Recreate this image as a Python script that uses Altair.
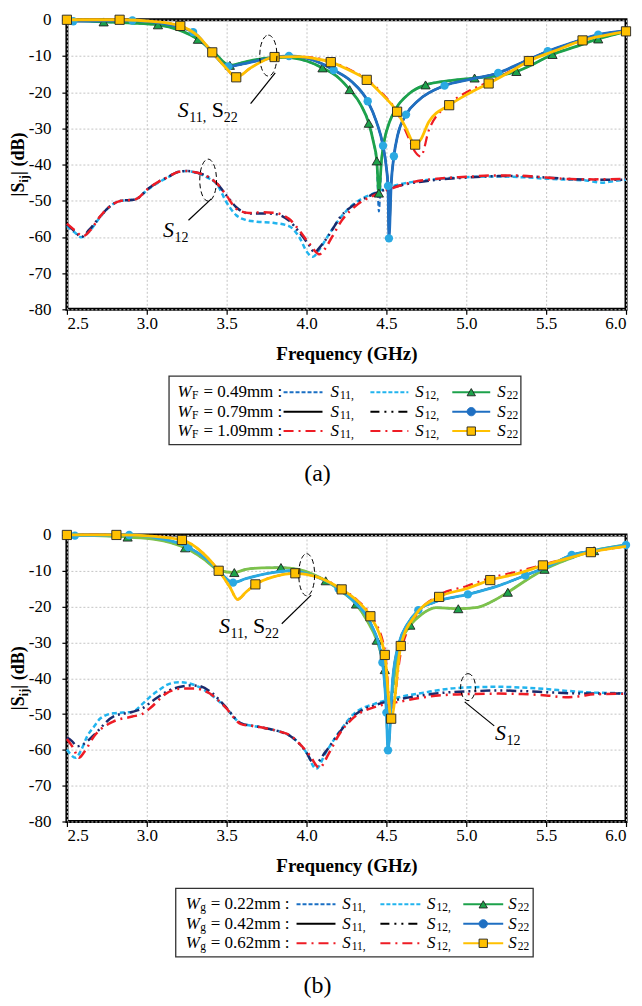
import altair as alt
import pandas as pd

FONT = 'Liberation Serif'
PW = 560
PH_A, PH_B = 290, 287
LEG_A_H, LEG_B_H = 226, 177

GREEN = '#1DA24B'
GREEN_LT = '#7DC24B'
BLUE = '#1F6FC2'
CYAN = '#2AA9E2'
YELLOW = '#FFC000'
RED = '#EE1C25'
NAVY = '#1B2A6B'
SKY = '#21B4EE'
DBLUE = '#1A6FC4'
EDGE = '#222222'

X_TICKS = [2.5, 3.0, 3.5, 4.0, 4.5, 5.0, 5.5, 6.0]
Y_TICKS = [0, -10, -20, -30, -40, -50, -60, -70, -80]

# ---------- (a) W_F sweep ----------
a_wf = ['0.49', '0.79', '1.09']

a_s22_049_f = [2.50, 2.73, 2.90, 3.07, 3.20, 3.32, 3.42, 3.52, 3.62, 3.75, 3.87, 4.00, 4.10, 4.20, 4.27, 4.34, 4.39, 4.42,
               4.44, 4.453, 4.47, 4.49, 4.52, 4.56, 4.64, 4.745, 4.90, 5.052, 5.18, 5.314, 5.44, 5.54, 5.68, 5.826, 6.00]
a_s22_049_db = [0.0, -0.6, -0.9, -1.4, -2.8, -5.4, -9.0, -12.6, -11.6, -10.6, -10.4, -11.4, -13.3, -16.0, -19.3, -23.5,
                -28.6, -34.0, -39.0, -47.9, -38.5, -32.7, -28.2, -24.5, -20.5, -18.0, -16.8, -16.1, -15.6, -14.3, -11.8,
                -9.6, -7.5, -5.3, -3.3]
a_s22_049_mk = [2.73, 3.07, 3.32, 3.52, 4.10, 4.27, 4.39, 4.44, 4.453, 4.745, 5.052, 5.314, 5.54, 5.826]
a_s11_049_db = [0.0, -0.6, -0.9, -1.4, -2.8, -5.4, -9.0, -12.6, -11.6, -10.6, -10.4, -11.4, -13.3, -16.0, -19.3, -23.5,
                -28.6, -34.0, -40.0, -53.0, -38.5, -32.7, -28.2, -24.5, -20.5, -18.0, -16.8, -16.1, -15.6, -14.3, -11.8,
                -9.6, -7.5, -5.3, -3.3]

a_s22_079_f = [2.50, 2.54, 2.91, 3.10, 3.29, 3.40, 3.51, 3.60, 3.75, 3.89, 4.00, 4.10, 4.17, 4.28, 4.383, 4.438, 4.479,
               4.50, 4.51, 4.516, 4.53, 4.547, 4.571, 4.623, 4.70, 4.864, 5.03, 5.20, 5.35, 5.51, 5.66, 5.826, 6.00]
a_s22_079_db = [-0.2, -0.4, -0.2, -1.0, -3.4, -8.5, -12.9, -12.2, -10.8, -10.0, -10.6, -12.2, -13.9, -17.0, -22.5,
                -28.2, -34.8, -40.9, -45.9, -60.4, -45.4, -37.7, -31.8, -26.2, -22.3, -18.2, -16.4, -14.7, -11.8, -8.7,
                -6.4, -4.1, -3.0]
a_s22_079_mk = [2.54, 2.91, 3.29, 3.51, 3.89, 4.17, 4.383, 4.479, 4.51, 4.516, 4.547, 4.623, 4.864, 5.20, 5.51, 5.826]
a_s11_079_db = a_s22_079_db[:]  # hidden under the S22 trace

a_s22_109_f = [2.50, 2.83, 3.05, 3.21, 3.32, 3.41, 3.50, 3.56, 3.65, 3.80, 3.95, 4.05, 4.152, 4.275, 4.377, 4.479, 4.567,
               4.623, 4.68, 4.715, 4.766, 4.893, 5.01, 5.14, 5.27, 5.392, 5.56, 5.728, 5.87, 6.00]
a_s22_109_db = [0.0, 0.0, -0.5, -1.7, -4.5, -9.0, -13.5, -15.9, -13.3, -10.3, -10.2, -10.7, -11.7, -14.1, -16.6, -20.9,
                -25.4, -30.0, -34.5, -33.1, -28.2, -23.6, -20.5, -17.6, -14.5, -11.4, -8.5, -5.7, -4.3, -3.2]
a_s22_109_mk = [2.50, 2.83, 3.21, 3.41, 3.56, 3.80, 4.152, 4.377, 4.567, 4.68, 4.893, 5.14, 5.392, 5.728, 6.00]
a_s11_109_db = [0.0, 0.0, -0.5, -1.7, -4.5, -9.0, -13.5, -15.9, -13.3, -10.3, -10.2, -10.5, -11.5, -13.9, -16.4, -20.6,
                -25.5, -31.0, -36.5, -37.8, -30.5, -23.3, -19.8, -17.2, -14.3, -11.3, -8.4, -5.7, -4.3, -3.2]

a_s12_049_f = [2.50, 2.55, 2.59, 2.64, 2.70, 2.76, 2.83, 2.93, 3.01, 3.08, 3.13, 3.20, 3.25, 3.31, 3.38, 3.44, 3.50, 3.56,
               3.62, 3.69, 3.79, 3.89, 3.96, 4.00, 4.04, 4.08, 4.13, 4.19, 4.27, 4.34, 4.42, 4.50, 4.60, 4.75, 4.90, 5.05,
               5.20, 5.35, 5.50, 5.65, 5.75, 5.85, 5.92, 6.00]
a_s12_049_db = [-57.0, -58.8, -60.1, -58.5, -55.0, -51.9, -50.1, -49.6, -46.8, -44.8, -43.6, -42.0, -41.8, -42.3, -43.6,
                -45.5, -50.5, -54.0, -55.3, -55.8, -56.1, -57.0, -60.5, -64.0, -65.5, -63.5, -60.0, -56.0, -51.9, -49.6,
                -48.0, -46.5, -45.3, -44.3, -43.7, -43.4, -43.3, -43.5, -43.9, -44.2, -44.4, -45.0, -44.6, -44.2]

a_s12_079_f = [2.50, 2.55, 2.59, 2.64, 2.70, 2.76, 2.83, 2.93, 3.01, 3.08, 3.13, 3.20, 3.25, 3.31, 3.38, 3.44, 3.50, 3.56,
               3.64, 3.72, 3.79, 3.89, 3.96, 4.02, 4.05, 4.08, 4.14, 4.21, 4.32, 4.44, 4.54, 4.65, 4.80, 5.00, 5.20, 5.35,
               5.50, 5.65, 5.80, 6.00]
a_s12_079_db = [-56.5, -58.5, -60.0, -58.0, -54.8, -51.9, -50.1, -49.6, -46.6, -44.6, -43.5, -42.0, -41.8, -42.2, -43.3,
                -45.3, -48.6, -51.8, -53.5, -53.5, -53.6, -55.5, -59.0, -62.5, -64.3, -63.0, -59.5, -54.6, -50.5, -47.8,
                -46.3, -45.2, -44.3, -43.6, -43.2, -43.2, -43.6, -44.0, -44.2, -44.2]

a_s12_109_f = [2.50, 2.55, 2.60, 2.65, 2.70, 2.76, 2.83, 2.93, 3.01, 3.08, 3.13, 3.20, 3.25, 3.31, 3.38, 3.44, 3.50, 3.56,
               3.64, 3.72, 3.79, 3.89, 3.96, 4.02, 4.08, 4.12, 4.16, 4.22, 4.32, 4.44, 4.54, 4.65, 4.80, 5.00, 5.20, 5.35,
               5.50, 5.65, 5.80, 6.00]
a_s12_109_db = [-56.3, -58.2, -59.8, -58.0, -54.8, -51.9, -50.1, -49.6, -46.6, -44.6, -43.5, -42.0, -41.8, -42.2, -43.3,
                -45.3, -48.6, -52.2, -53.4, -53.2, -53.3, -55.0, -58.5, -62.0, -64.8, -63.0, -60.0, -55.5, -51.0, -48.2,
                -46.5, -45.0, -44.0, -43.4, -43.0, -43.1, -43.6, -44.0, -44.1, -44.0]

# ---------- (b) W_g sweep ----------
b_wg = ['0.22', '0.42', '0.62']

b_s22_022_f = [2.50, 2.88, 3.05, 3.24, 3.35, 3.45, 3.548, 3.62, 3.72, 3.84, 3.95, 4.03, 4.12, 4.22, 4.31, 4.38, 4.44,
               4.49, 4.52, 4.56, 4.60, 4.65, 4.72, 4.81, 4.95, 5.07, 5.16, 5.26, 5.37, 5.49, 5.63, 5.80, 6.00]
b_s22_022_db = [0.0, -0.6, -1.2, -3.6, -6.5, -9.8, -10.5, -9.6, -9.2, -9.1, -9.6, -10.8, -12.8, -15.8, -19.3, -24.0,
                -29.4, -37.6, -47.0, -36.0, -29.0, -25.2, -22.2, -20.3, -20.6, -20.2, -18.6, -16.0, -12.8, -9.6, -6.9,
                -4.4, -2.8]
b_s22_022_mk = [2.88, 3.24, 3.548, 3.84, 4.12, 4.31, 4.44, 4.49, 4.65, 4.95, 5.26, 5.49, 5.80]
b_s11_022_db = [0.0, -0.6, -1.2, -3.6, -6.5, -9.8, -10.5, -9.6, -9.2, -9.1, -9.6, -10.8, -12.8, -15.8, -19.3, -24.0,
                -29.4, -37.6, -50.0, -36.0, -29.0, -25.2, -22.2, -20.3, -20.6, -20.2, -18.6, -16.0, -12.8, -9.6, -6.9,
                -4.4, -2.8]

b_s22_042_f = [2.50, 2.55, 2.89, 3.08, 3.26, 3.38, 3.45, 3.54, 3.62, 3.75, 3.90, 4.00, 4.12, 4.20, 4.31, 4.40, 4.475,
               4.50, 4.51, 4.54, 4.58, 4.63, 4.70, 4.80, 5.01, 5.20, 5.37, 5.50, 5.66, 5.82, 6.00]
b_s22_042_db = [-0.2, -0.2, 0.0, -1.0, -3.4, -7.0, -10.0, -13.3, -12.2, -10.8, -10.0, -10.8, -12.8, -15.0, -19.2, -24.5,
                -35.6, -49.6, -60.1, -40.0, -30.0, -25.0, -21.0, -18.8, -16.6, -14.2, -11.3, -9.0, -5.6, -4.2, -2.8]
b_s22_042_mk = [2.55, 2.89, 3.26, 3.54, 4.20, 4.475, 4.50, 4.51, 4.70, 5.01, 5.37, 5.66, 6.00]
b_s11_042_db = b_s22_042_db[:]  # hidden under the S22 trace

b_s22_062_f = [2.50, 2.81, 3.05, 3.22, 3.35, 3.45, 3.52, 3.568, 3.62, 3.68, 3.80, 3.93, 4.05, 4.22, 4.32, 4.40, 4.49,
               4.53, 4.59, 4.68, 4.83, 5.00, 5.15, 5.32, 5.48, 5.63, 5.78, 6.00]
b_s22_062_db = [0.0, 0.0, -0.4, -1.4, -5.0, -10.0, -14.5, -18.0, -16.0, -13.8, -11.6, -10.7, -11.5, -15.2, -18.5, -22.7,
                -33.5, -51.3, -31.0, -22.5, -17.3, -15.0, -12.6, -10.8, -8.5, -6.6, -4.8, -3.2]
b_s22_062_mk = [2.50, 2.81, 3.22, 3.45, 3.68, 3.93, 4.22, 4.40, 4.49, 4.53, 4.59, 4.83, 5.15, 5.48, 5.78]
b_s11_062_db = [0.0, 0.0, -0.4, -1.4, -5.0, -10.0, -14.5, -18.0, -16.0, -13.8, -11.6, -10.7, -11.5, -15.0, -18.3, -22.3,
                -32.0, -50.0, -33.0, -23.0, -16.8, -14.3, -12.0, -10.2, -8.3, -6.5, -4.8, -3.2]

b_s12_022_f = [2.50, 2.555, 2.59, 2.627, 2.67, 2.71, 2.79, 2.91, 2.97, 3.02, 3.08, 3.12, 3.20, 3.28, 3.38, 3.49, 3.59,
               3.69, 3.77, 3.84, 3.90, 3.96, 4.00, 4.06, 4.12, 4.20, 4.30, 4.43, 4.59, 4.75, 4.90, 5.05, 5.20, 5.35,
               5.50, 5.65, 5.80, 6.00]
b_s12_022_db = [-59.9, -62.2, -60.0, -56.2, -53.5, -51.2, -49.8, -49.4, -47.3, -45.2, -43.2, -42.0, -41.1, -41.6, -43.9,
                -48.0, -52.6, -53.5, -54.2, -55.0, -56.2, -58.5, -60.8, -65.3, -60.8, -55.3, -49.8, -47.1, -45.2, -43.9,
                -42.9, -42.5, -42.4, -42.6, -43.0, -43.6, -44.0, -44.2]

b_s12_042_f = [2.50, 2.53, 2.565, 2.60, 2.67, 2.79, 2.91, 2.97, 3.04, 3.14, 3.22, 3.28, 3.33, 3.40, 3.49, 3.59, 3.69,
               3.77, 3.84, 3.90, 3.96, 4.00, 4.05, 4.12, 4.20, 4.30, 4.43, 4.59, 4.75, 4.90, 5.05, 5.20, 5.35, 5.50,
               5.65, 5.80, 6.00]
b_s12_042_db = [-56.6, -57.5, -59.0, -58.5, -55.8, -50.7, -49.4, -48.5, -46.2, -43.4, -42.3, -42.0, -42.2, -43.8, -47.8,
                -52.6, -53.5, -54.2, -55.0, -56.2, -58.5, -60.8, -64.0, -60.5, -55.5, -50.3, -47.5, -45.8, -44.6, -43.9,
                -43.6, -43.4, -43.6, -43.9, -44.2, -44.3, -44.3]

b_s12_062_f = [2.50, 2.54, 2.575, 2.61, 2.67, 2.79, 2.91, 2.97, 3.02, 3.12, 3.22, 3.30, 3.38, 3.49, 3.59, 3.69, 3.77,
               3.84, 3.90, 3.96, 4.02, 4.08, 4.14, 4.20, 4.30, 4.43, 4.59, 4.75, 4.90, 5.05, 5.20, 5.35, 5.50, 5.62,
               5.70, 5.80, 6.00]
b_s12_062_db = [-57.0, -59.5, -62.2, -60.5, -56.2, -52.1, -50.7, -50.0, -48.4, -44.3, -42.9, -42.9, -43.9, -48.0, -52.8,
                -53.5, -54.2, -55.0, -56.0, -58.5, -61.5, -65.0, -61.0, -56.0, -50.8, -48.0, -46.5, -45.2, -44.6, -44.4,
                -44.3, -44.4, -44.8, -45.3, -45.1, -44.5, -44.3]


X = alt.X('f:Q', scale=alt.Scale(domain=[2.5, 6.0], nice=False, zero=False),
          axis=alt.Axis(values=X_TICKS, format='.1f', title='Frequency (GHz)', labelPadding=1, titlePadding=13))
Y = alt.Y('db:Q', scale=alt.Scale(domain=[-80, 0], nice=False),
          axis=alt.Axis(values=Y_TICKS, title=None, labelPadding=11,
                        labelExpr="datum.value == 0 ? '0' : '-' + abs(datum.value)"))


def curve(f, db, color, width, dash=None):
    props = dict(color=color, strokeWidth=width, interpolate='monotone')
    if dash:
        props['strokeDash'] = dash
    return alt.Chart(pd.DataFrame({'f': f, 'db': db})).mark_line(**props).encode(x=X, y=Y)


def markers(f, db, at, shape, fill, size, edge=None):
    lookup = dict(zip(f, db))
    df = pd.DataFrame({'f': at, 'db': [lookup[v] for v in at]})
    props = dict(shape=shape, size=size, filled=True, fill=fill, opacity=1)
    if edge:
        props.update(stroke=edge, strokeWidth=0.9)
    return alt.Chart(df).mark_point(**props).encode(x=X, y=Y)


def ellipse(f, db, h, ratio):
    path = f'M0,-1A{ratio},1,0,1,1,0,1A{ratio},1,0,1,1,0,-1Z'
    return alt.Chart(pd.DataFrame({'f': [f], 'db': [db]})).mark_point(
        shape=path, size=h * h, filled=False, stroke='black', strokeWidth=1, strokeDash=[5, 3], opacity=1
    ).encode(x=X, y=Y)


def leader(f1, db1, f2, db2):
    df = pd.DataFrame({'f': [f1], 'db': [db1], 'f2': [f2], 'db2': [db2]})
    return alt.Chart(df).mark_rule(color='black', strokeWidth=1.2).encode(x=X, y=Y, x2='f2:Q', y2='db2:Q')


def s_label(f, db, parts, size=22):
    base = pd.DataFrame({'f': [f], 'db': [db]})
    out = []
    for text, dx, sub, italic in parts:
        props = dict(text=text, dx=dx, align='left', baseline='alphabetic', font=FONT, color='black',
                     fontSize=14 if sub else size, fontStyle='italic' if italic else 'normal')
        if sub:
            props['dy'] = 5
        out.append(alt.Chart(base).mark_text(**props).encode(x=X, y=Y))
    return out


def y_title(h):
    base = pd.DataFrame({'k': [0]})
    out = []
    for text, dx, size in [('|S', 0, 18), ('ij', 14, 12), ('| (dB)', 21.5, 18)]:
        props = dict(text=text, angle=270, dx=dx, align='left', baseline='alphabetic', font=FONT,
                     fontSize=size, fontWeight='bold', color='black')
        if size < 18:
            props['dy'] = 4
        out.append(alt.Chart(base).mark_text(**props).encode(x=alt.value(-43), y=alt.value(h / 2 + 32)))
    return out


S11_S22 = [('S', 0, False, True), ('11,', 11.5, True, False), ('S', 34, False, False), ('22', 46, True, False)]
S12 = [('S', 0, False, True), ('12', 11.5, True, False)]

layers_a = [
    curve(a_s22_049_f, a_s11_049_db, DBLUE, 2, [5, 3]),
    curve(a_s22_079_f, a_s11_079_db, 'black', 2),
    curve(a_s22_109_f, a_s11_109_db, RED, 2.2, [10, 5, 2, 5]),
    curve(a_s12_049_f, a_s12_049_db, SKY, 2.5, [5, 3]),
    curve(a_s12_079_f, a_s12_079_db, NAVY, 2.5, [10, 4, 2, 4, 2, 4]),
    curve(a_s12_109_f, a_s12_109_db, RED, 2.5, [10, 5, 2, 5]),
    curve(a_s22_049_f, a_s22_049_db, GREEN, 2.8),
    markers(a_s22_049_f, a_s22_049_db, a_s22_049_mk, 'triangle-up', GREEN, 85, EDGE),
    curve(a_s22_079_f, a_s22_079_db, BLUE, 2.8),
    markers(a_s22_079_f, a_s22_079_db, a_s22_079_mk, 'circle', CYAN, 70),
    curve(a_s22_109_f, a_s22_109_db, YELLOW, 2.8),
    markers(a_s22_109_f, a_s22_109_db, a_s22_109_mk, 'square', YELLOW, 85, EDGE),
    ellipse(3.761, -9.9, 41, 0.42),
    leader(3.804, -14.7, 3.65, -23.2),
    *s_label(3.194, -26.8, S11_S22),
    ellipse(3.384, -44.3, 42, 0.40),
    leader(3.404, -49.5, 3.261, -55.4),
    *s_label(3.102, -60.1, S12),
    *y_title(PH_A),
]

layers_b = [
    curve(b_s22_022_f, b_s11_022_db, DBLUE, 2, [5, 3]),
    curve(b_s22_042_f, b_s11_042_db, 'black', 2),
    curve(b_s22_062_f, b_s11_062_db, RED, 2.2, [10, 5, 2, 5]),
    curve(b_s12_022_f, b_s12_022_db, SKY, 2.5, [5, 3]),
    curve(b_s12_042_f, b_s12_042_db, NAVY, 2.5, [10, 4, 2, 4, 2, 4]),
    curve(b_s12_062_f, b_s12_062_db, RED, 2.5, [10, 5, 2, 5]),
    curve(b_s22_022_f, b_s22_022_db, GREEN_LT, 2.8),
    markers(b_s22_022_f, b_s22_022_db, b_s22_022_mk, 'triangle-up', GREEN, 85, EDGE),
    curve(b_s22_042_f, b_s22_042_db, CYAN, 2.8),
    markers(b_s22_042_f, b_s22_042_db, b_s22_042_mk, 'circle', CYAN, 70),
    curve(b_s22_062_f, b_s22_062_db, YELLOW, 2.8),
    markers(b_s22_062_f, b_s22_062_db, b_s22_062_mk, 'square', YELLOW, 85, EDGE),
    ellipse(4.001, -11.1, 42, 0.38),
    leader(4.029, -16.8, 3.845, -24.8),
    *s_label(3.452, -27.4, S11_S22),
    ellipse(5.011, -42.5, 27, 0.55),
    leader(4.99, -46.6, 5.175, -53.3),
    *s_label(5.18, -57.3, S12),
    *y_title(PH_B),
]

frame = alt.ViewBackground(stroke='black', strokeWidth=3)
panel_a = alt.layer(*layers_a).properties(width=PW, height=PH_A, view=frame)
panel_b = alt.layer(*layers_b).properties(width=PW, height=PH_B, view=frame)

# ---------- legend boxes ----------
ROW_Y = [83, 102.5, 122]
BOX_Y = (67, 135.5)
LEGEND_COLS = [
    [(DBLUE, [4, 2]), ('black', None), (RED, [10, 5, 2, 5])],
    [(SKY, [4, 2]), ('black', [9, 5, 2, 5, 2, 5]), (RED, [10, 5, 2, 5])],
    [(GREEN, None), (BLUE, None), (YELLOW, None)],
]
LEGEND_MARKS = [('triangle-up', GREEN, EDGE), ('circle', BLUE, BLUE), ('square', YELLOW, EDGE)]
S_SUBS = ['11,', '12,', '22']


def legend(sym, wvals, pos, height, caption, cap_y):
    lx = alt.X('x:Q', scale=alt.Scale(domain=[0, PW], nice=False, zero=False), axis=None)
    ly = alt.Y('y:Q', scale=alt.Scale(domain=[0, height], nice=False, zero=False, reverse=True), axis=None)

    def txt(xs, ys, texts, **kw):
        props = dict(font=FONT, color='black', align='left', baseline='middle')
        props.update(kw)
        df = pd.DataFrame({'x': xs, 'y': ys, 't': texts})
        return alt.Chart(df).mark_text(**props).encode(x=lx, y=ly, text='t:N')

    box = pd.DataFrame({'x': [pos['box']], 'x2': [pos['box'] + pos['box_w']], 'y': [BOX_Y[0]], 'y2': [BOX_Y[1]]})
    layers = [alt.Chart(box).mark_rect(fillOpacity=0, stroke='#333333', strokeWidth=1.3).encode(
        x=lx, x2='x2:Q', y=ly, y2='y2:Q')]
    layers.append(txt([pos['w']] * 3, ROW_Y, ['W'] * 3, fontSize=17, fontStyle='italic'))
    layers.append(txt([pos['w'] + 14.5] * 3, ROW_Y, [sym] * 3, fontSize=11.5, dy=4))
    layers.append(txt([pos['w'] + pos['eq']] * 3, ROW_Y, [f'= {v}mm :' for v in wvals], fontSize=17))
    for c, col in enumerate(LEGEND_COLS):
        x0, x1 = pos['lines'][c]
        for r, (color, dash) in enumerate(col):
            props = dict(color=color, strokeWidth=2)
            if dash:
                props['strokeDash'] = dash
            df = pd.DataFrame({'x': [x0], 'x2': [x1], 'y': [ROW_Y[r]]})
            layers.append(alt.Chart(df).mark_rule(**props).encode(x=lx, x2='x2:Q', y=ly))
        layers.append(txt([pos['s'][c]] * 3, ROW_Y, ['S'] * 3, fontSize=17, fontStyle='italic'))
        layers.append(txt([pos['s'][c] + 9.5] * 3, ROW_Y, [S_SUBS[c]] * 3, fontSize=11.5, dy=4))
    mx = (pos['lines'][2][0] + pos['lines'][2][1]) / 2
    for r, (shape, fill, edge) in enumerate(LEGEND_MARKS):
        df = pd.DataFrame({'x': [mx], 'y': [ROW_Y[r]]})
        layers.append(alt.Chart(df).mark_point(shape=shape, size=70, filled=True, fill=fill, stroke=edge,
                                               strokeWidth=0.9, opacity=1).encode(x=lx, y=ly))
    layers.append(txt([251], [cap_y], [caption], fontSize=24, align='center'))
    return alt.layer(*layers).properties(width=PW, height=height)


pos_a = dict(box=102.3, box_w=352.4, w=110.7, eq=26,
             lines=[(217, 256), (304, 342), (386, 424)], s=[264, 349, 431])
pos_b = dict(box=109, box_w=358, w=119, eq=25,
             lines=[(230, 269), (314, 354), (397, 437)], s=[275.7, 360.7, 442])

legend_a = legend('F', a_wf, pos_a, LEG_A_H, '(a)', 165)
legend_b = legend('g', b_wg, pos_b, LEG_B_H, '(b)', 165)

chart = alt.vconcat(panel_a, legend_a, panel_b, legend_b, spacing=0, bounds='flush').properties(
    padding=0
).configure_view(
    strokeWidth=0
).configure_axis(
    labelFont=FONT, labelFontSize=17, labelColor='black',
    titleFont=FONT, titleFontSize=19, titleFontWeight='bold', titleColor='black',
    gridColor='#c4c4c4', gridDash=[2, 2], gridWidth=1,
    tickColor='black', tickSize=5, tickWidth=1.2, domain=False
)

chart.save('out.html', embed_options={'renderer': 'svg', 'actions': False})
